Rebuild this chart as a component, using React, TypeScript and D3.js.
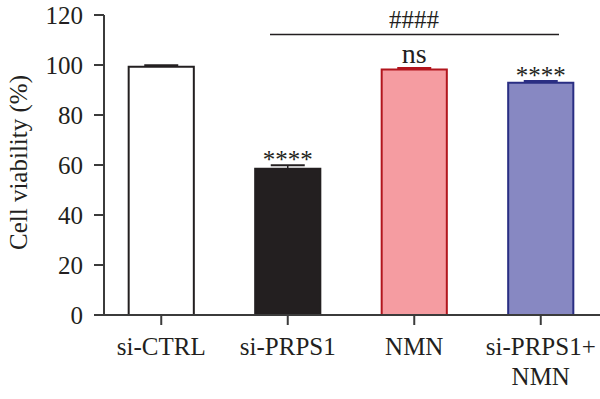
import React, { useRef, useEffect } from 'react';
import * as d3 from 'd3';

const groups: string[][] = [['si-CTRL'], ['si-PRPS1'], ['NMN'], ['si-PRPS1+', 'NMN']];
const means: number[] = [99.3, 58.5, 98.2, 92.9];
const errors: number[] = [0.6, 1.4, 0.6, 0.7];
const marks: string[] = ['', '****', 'ns', '****'];
const fills: string[] = ['#ffffff', '#231f20', '#f59ca1', '#8788c2'];
const strokes: string[] = ['#231f20', '#231f20', '#b2151d', '#2a2e83'];
const yTicks: number[] = [0, 20, 40, 60, 80, 100, 120];

const W = 600;
const H = 399;
const FONT = '"Liberation Serif", "Times New Roman", serif';
const AXIS = '#3b3b3b';

const App = () => {
    const svgRef = useRef<SVGSVGElement | null>(null);

    useEffect(() => {
        if (!svgRef.current) return;
        const svg = d3.select(svgRef.current);
        svg.selectAll('*').remove();

        const keys = groups.map((g) => g.join(' '));
        const x = d3.scalePoint<string>().domain(keys).range([98, 604]).padding(0.5);
        const y = d3.scaleLinear().domain([0, 120]).range([315, 15]);
        const barW = x.step() * 0.515;
        const capW = 34;

        // y axis
        svg.append('line')
            .attr('x1', 104).attr('x2', 104)
            .attr('y1', y(120)).attr('y2', y(0))
            .attr('stroke', AXIS).attr('stroke-width', 2);
        const yt = svg.append('g');
        yTicks.forEach((t) => {
            yt.append('line')
                .attr('x1', 94).attr('x2', 104)
                .attr('y1', y(t)).attr('y2', y(t))
                .attr('stroke', AXIS).attr('stroke-width', 2);
            yt.append('text')
                .attr('x', 83).attr('y', y(t))
                .attr('dy', '0.34em')
                .attr('text-anchor', 'end')
                .attr('font-family', FONT).attr('font-size', 25)
                .attr('fill', '#231f20')
                .text(t);
        });

        // axis label
        svg.append('text')
            .attr('transform', `translate(27,${y(61)}) rotate(-90)`)
            .attr('text-anchor', 'middle')
            .attr('font-family', FONT).attr('font-size', 25)
            .attr('fill', '#231f20')
            .text('Cell viability (%)');

        // bars
        keys.forEach((k, i) => {
            const cx = x(k) as number;
            svg.append('rect')
                .attr('x', cx - barW / 2)
                .attr('y', y(means[i]))
                .attr('width', barW)
                .attr('height', y(0) - y(means[i]))
                .attr('fill', fills[i])
                .attr('stroke', strokes[i])
                .attr('stroke-width', 2);
            // error bar
            svg.append('line')
                .attr('x1', cx).attr('x2', cx)
                .attr('y1', y(means[i])).attr('y2', y(means[i] + errors[i]))
                .attr('stroke', strokes[i]).attr('stroke-width', 1.5);
            svg.append('line')
                .attr('x1', cx - capW / 2).attr('x2', cx + capW / 2)
                .attr('y1', y(means[i] + errors[i])).attr('y2', y(means[i] + errors[i]))
                .attr('stroke', strokes[i]).attr('stroke-width', 2);
            if (marks[i]) {
                const isNs = marks[i] === 'ns';
                svg.append('text')
                    .attr('x', cx)
                    .attr('y', y(means[i] + errors[i]) - (isNs ? 5 : -3))
                    .attr('text-anchor', 'middle')
                    .attr('font-family', FONT)
                    .attr('font-size', isNs ? 28 : 25)
                    .attr('fill', '#231f20')
                    .text(marks[i]);
            }
        });

        // x axis
        svg.append('line')
            .attr('x1', 94).attr('x2', 600)
            .attr('y1', y(0)).attr('y2', y(0))
            .attr('stroke', AXIS).attr('stroke-width', 2);
        keys.forEach((k, i) => {
            const cx = x(k) as number;
            svg.append('line')
                .attr('x1', cx).attr('x2', cx)
                .attr('y1', y(0)).attr('y2', y(0) + 10)
                .attr('stroke', AXIS).attr('stroke-width', 2);
            groups[i].forEach((line, j) => {
                svg.append('text')
                    .attr('x', cx).attr('y', 355 + j * 30)
                    .attr('text-anchor', 'middle')
                    .attr('font-family', FONT).attr('font-size', 25)
                    .attr('fill', '#231f20')
                    .text(line);
            });
        });

        // comparison bracket
        svg.append('line')
            .attr('x1', 270).attr('x2', 559)
            .attr('y1', 34.5).attr('y2', 34.5)
            .attr('stroke', '#231f20').attr('stroke-width', 1.5);
        svg.append('text')
            .attr('x', 414).attr('y', 28)
            .attr('text-anchor', 'middle')
            .attr('font-family', FONT).attr('font-size', 25)
            .attr('fill', '#231f20')
            .text('####');
    }, []);

    return (
        <svg
            ref={svgRef}
            width={W}
            height={H}
            style={{ position: 'absolute', left: 0, top: 0, background: '#fff' }}
        />
    );
};

export default App;
